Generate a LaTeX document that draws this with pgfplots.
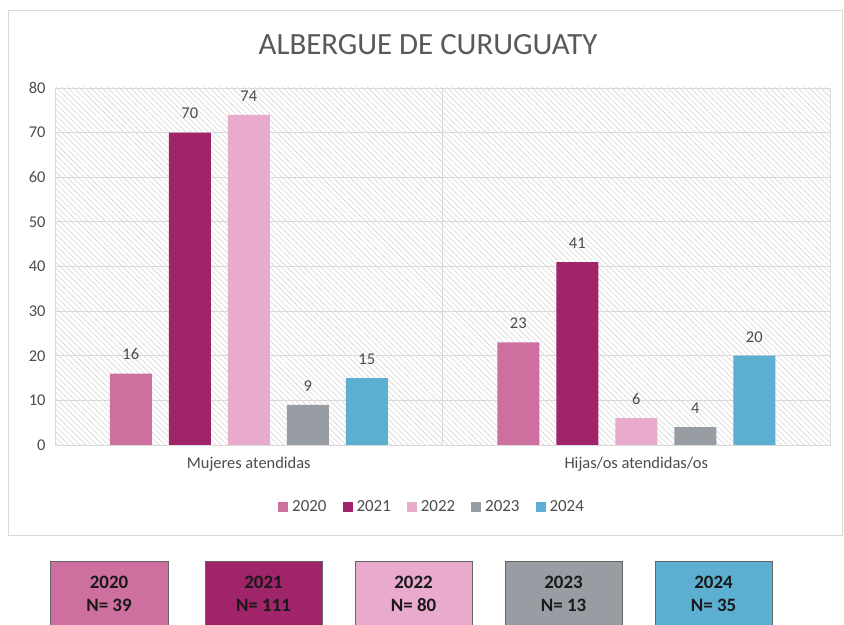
\documentclass[border=0pt]{standalone}
\usepackage{fontspec}
\setmainfont{Carlito}
\usepackage{pgfplots}
\pgfplotsset{compat=1.18}
\usetikzlibrary{patterns.meta}
\definecolor{c20}{RGB}{205,112,160}
\definecolor{c21}{RGB}{160,36,105}
\definecolor{c22}{RGB}{232,170,205}
\definecolor{c23}{RGB}{152,157,164}
\definecolor{c24}{RGB}{92,175,208}
\begin{document}
\begin{tikzpicture}[x=1bp,y=1bp]
\useasboundingbox (0,0) rectangle (844,625);
\fill[white] (0,0) rectangle (844,625);
\draw[black!15, line width=0.8bp] (8,90) rectangle (842,615);
\node[text=black!65, font=\fontsize{31}{36}\selectfont] at (428,580) {ALBERGUE DE CURUGUATY};
\begin{axis}[at={(55bp,180bp)}, anchor=south west, scale only axis, width=775bp, height=357bp,
  xmin=-0.5, xmax=1.5, ymin=0, ymax=80, ytick={0,10,...,80},
  xtick={0,1}, xticklabels={Mujeres atendidas, Hijas/os atendidas/os},
  ybar=17bp, bar width=42bp,
  ymajorgrids, grid style={black!15, line width=0.8bp},
  axis line style={black!15}, major tick length=0,
  ticklabel style={text=black!70, font=\fontsize{16.5}{19}\selectfont},
  yticklabel style={xshift=-6bp},
  xticklabel style={yshift=-9bp},
  /pgf/number format/assume math mode=true,
  nodes near coords,
  nodes near coords style={text=black!70, font=\fontsize{16.5}{19}\selectfont, yshift=10bp},
  axis background/.style={pattern={Lines[angle=-45,distance=4bp,line width=0.6bp]}, pattern color=black!16},
  legend style={at={(0.4865,-0.1737)}, anchor=center, draw=none, fill=none, legend columns=5,
    font=\fontsize{17}{20}\selectfont, text=black!70,
    /tikz/every odd column/.append style={column sep=2bp},
    /tikz/every even column/.append style={column sep=14bp}},
  legend image code/.code={\draw[#1, draw=none] (0bp,-5bp) rectangle (10bp,5bp);},
]
\draw[black!15, line width=0.8bp] (axis cs:0.5,0) -- (axis cs:0.5,80);
\draw[black!30, line width=0.8bp] (axis cs:-0.5,0) -- (axis cs:1.5,0);
\addplot[fill=c20, draw=none] coordinates {(0,16) (1,23)};
\addplot[fill=c21, draw=none] coordinates {(0,70) (1,41)};
\addplot[fill=c22, draw=none] coordinates {(0,74) (1,6)};
\addplot[fill=c23, draw=none] coordinates {(0,9) (1,4)};
\addplot[fill=c24, draw=none] coordinates {(0,15) (1,20)};
\legend{2020,2021,2022,2023,2024}
\end{axis}
\foreach \xa/\xb/\col/\yr/\n in {50/168/c20/2020/39, 205/322/c21/2021/111, 355/472/c22/2022/80, 505/622/c23/2023/13, 655/772/c24/2024/35}{
  \draw[fill=\col, draw=black!60, line width=1bp] (\xa,-5) rectangle (\xb,63);
  \node[font=\bfseries\fontsize{19}{22}\selectfont, text=black!90] at ({(\xa+\xb)/2},43) {\yr};
  \node[font=\bfseries\fontsize{19}{22}\selectfont, text=black!90] at ({(\xa+\xb)/2},20) {N= \n};
}
\end{tikzpicture}
\end{document}
